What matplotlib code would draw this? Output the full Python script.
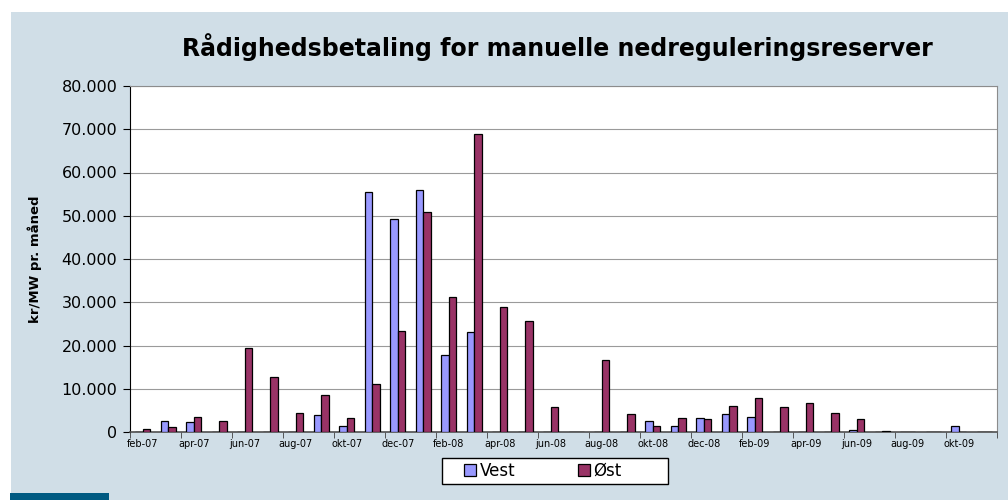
import numpy as np
import matplotlib
matplotlib.use('Agg')
import matplotlib.pyplot as plt
from matplotlib.patches import Rectangle
from matplotlib.ticker import FuncFormatter

plt.rcParams['font.family'] = ['DejaVu Sans']

months = ['feb-07', 'mar-07', 'apr-07', 'maj-07', 'jun-07', 'jul-07', 'aug-07', 'sep-07',
          'okt-07', 'nov-07', 'dec-07', 'jan-08', 'feb-08', 'mar-08', 'apr-08', 'maj-08',
          'jun-08', 'jul-08', 'aug-08', 'sep-08', 'okt-08', 'nov-08', 'dec-08', 'jan-09',
          'feb-09', 'mar-09', 'apr-09', 'maj-09', 'jun-09', 'jul-09', 'aug-09', 'sep-09',
          'okt-09', 'nov-09']
vest = [100, 2600, 2300, 0, 0, 0, 0, 4000,
        1400, 55500, 49300, 56000, 17800, 23100, 0, 0,
        0, 0, 0, 0, 2500, 1300, 3200, 4200,
        3500, 0, 0, 0, 500, 0, 0, 0,
        1300, 0]
oest = [800, 1200, 3400, 2600, 19500, 12800, 4400, 8500,
        3300, 11000, 23400, 50900, 31100, 68800, 28900, 25700,
        5700, 0, 16600, 4200, 1500, 3200, 3100, 6100,
        7900, 5700, 6700, 4400, 2900, 300, 0, 0,
        0, 0]

W, H = 1008, 500
fig = plt.figure(figsize=(W / 100, H / 100), dpi=100)
fig.patch.set_facecolor('white')
# light blue background panel and the dark strip bottom left
fig.patches.append(Rectangle((11 / W, 0), 1, 1 - 12 / H, transform=fig.transFigure,
                             facecolor='#D0DEE7', edgecolor='none', zorder=-2))
fig.patches.append(Rectangle((10 / W, 0), 99 / W, 7 / H, transform=fig.transFigure,
                             facecolor='#005A82', edgecolor='none', zorder=-1))

ax = fig.add_axes([130 / W, 68 / H, 867 / W, 346 / H])
ax.set_facecolor('white')

x = np.arange(len(months))
w = 0.29
ax.bar(x - w, vest, w, align='edge', color='#9999FF', edgecolor='black', linewidth=0.9,
       label='Vest', zorder=3)
ax.bar(x, oest, w, align='edge', color='#993366', edgecolor='black', linewidth=0.9,
       label='Øst', zorder=3)

ax.set_xlim(-0.5, len(months) - 0.5)
ax.set_ylim(0, 80000)
ax.set_yticks(np.arange(0, 80001, 10000))
ax.yaxis.set_major_formatter(FuncFormatter(lambda v, p: f'{int(v):,}'.replace(',', '.')))
ax.grid(axis='y', color='#9A9A9A', linewidth=0.8, zorder=0)

ax.set_xticks(x[::2])
ax.set_xticklabels(months[::2], fontsize=7)
ax.set_xticks(np.arange(-0.5, len(months), 2), minor=True)
ax.tick_params(axis='x', which='major', length=0, pad=5)
ax.tick_params(axis='x', which='minor', length=4, direction='out', color='#404040')
ax.tick_params(axis='y', length=5, direction='out', labelsize=11.5, pad=4)

for s in ['top', 'right']:
    ax.spines[s].set_color('#8C8C8C')
ax.spines['left'].set_color('black')
ax.spines['bottom'].set_color('#505050')
ax.spines['bottom'].set_linewidth(1.2)

ax.set_ylabel('kr/MW pr. måned', fontsize=9.5, fontweight='bold')
ax.yaxis.set_label_coords((42 - 130) / 867, 0.5)
fig.text(557 / W, 1 - 47 / H, 'Rådighedsbetaling for manuelle nedreguleringsreserver',
         ha='center', va='center', fontsize=17, fontweight='bold')

# legend: frame drawn separately to get the wide Excel-style box
fig.patches.append(Rectangle((442 / W, 1 - 484 / H), 226 / W, 26 / H, transform=fig.transFigure,
                             facecolor='white', edgecolor='black', linewidth=1.0, zorder=1))
leg = fig.legend(loc='center', bbox_to_anchor=(543 / W, 1 - 471 / H), ncol=2,
                 fontsize=12, frameon=False,
                 handlelength=0.7, handleheight=0.7, handletextpad=0.2, columnspacing=3.8,
                 borderpad=0, borderaxespad=0)
leg.set_zorder(2)

fig.savefig('out.png', dpi=100, facecolor=fig.get_facecolor())
